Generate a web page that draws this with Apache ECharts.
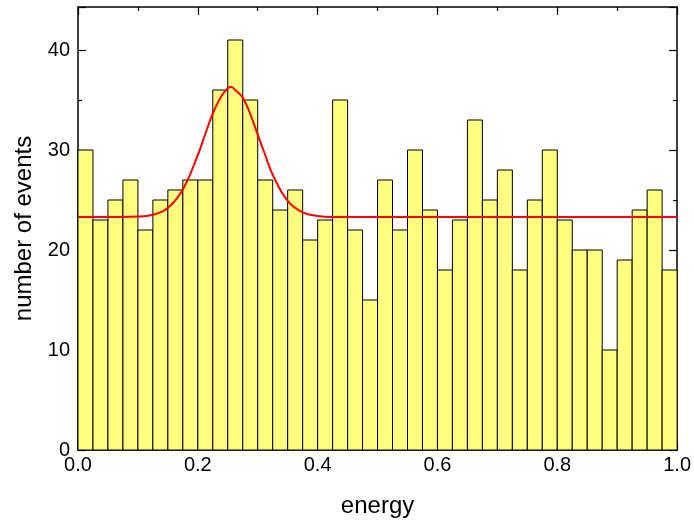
<!DOCTYPE html>
<html><head><meta charset="utf-8">
<script src="https://cdn.jsdelivr.net/npm/echarts@6/dist/echarts.min.js"></script>
<style>html,body{margin:0;padding:0;background:#fff}#c{width:694px;height:523px}</style>
</head><body><div id="c"></div>
<script>
const binStart = 0.0;
const binWidth = 0.025;
const counts = [30,23,25,27,22,25,26,27,27,36,41,35,27,24,26,21,23,35,22,15,27,22,30,24,18,23,33,25,28,18,25,30,23,20,20,10,19,24,26,18];
const fitX = [0,0.05,0.1,0.125,0.15,0.175,0.2,0.2125,0.225,0.2375,0.25,0.256,0.2625,0.275,0.2875,0.3,0.3125,0.325,0.35,0.375,0.4,0.425,0.5,0.6,0.7,0.8,0.9,1.0];
const fitY = [23.3,23.3,23.34,23.52,24.21,26.06,29.5,31.6,33.66,35.2,36.19,36.3,36.0,35.24,33.6,31.53,29.5,27.52,24.91,23.76,23.4,23.31,23.3,23.3,23.3,23.3,23.3,23.3];
const xTicks = ['0.0','0.2','0.4','0.6','0.8','1.0'];
const yTicks = ['0','10','20','30','40'];

const bars = counts.map((v,i)=>[binStart+i*binWidth, binStart+(i+1)*binWidth, v]);
const fitData = fitX.map((x,i)=>[x, fitY[i]]);

const chart = echarts.init(document.getElementById('c'));
const font = 'Liberation Sans, Arial, sans-serif';
const axisCommon = {
  axisLine:{show:true,onZero:false,lineStyle:{color:'#000',width:1.5}},
  axisTick:{show:true,inside:true,length:8,lineStyle:{color:'#000',width:1.2}},
  minorTick:{show:true,splitNumber:2,length:4,lineStyle:{color:'#000',width:1.2}},
  splitLine:{show:false}
};
chart.setOption({
  animation:false,
  grid:{left:78,right:15,top:7,bottom:72,containLabel:false},
  xAxis:[
    Object.assign({type:'value',min:0,max:1,interval:0.2,position:'bottom',
      name:'energy',nameLocation:'middle',nameGap:44,
      nameTextStyle:{fontSize:24,color:'#000',fontFamily:font},
      axisLabel:{fontSize:20,color:'#000',fontFamily:font,margin:5,formatter:v=>{const s=v.toFixed(1);return xTicks.includes(s)?s:'';}}
    },axisCommon),
    Object.assign({type:'value',min:0,max:1,interval:0.2,position:'top',axisLabel:{show:false}},axisCommon)
  ],
  yAxis:[
    Object.assign({type:'value',min:0,max:44.3,interval:10,position:'left',
      name:'number of events',nameLocation:'middle',nameGap:36,
      nameTextStyle:{fontSize:24,color:'#000',fontFamily:font},
      axisLabel:{fontSize:20,color:'#000',fontFamily:font,margin:8,showMaxLabel:false,formatter:v=>{const s=String(Math.round(v));return yTicks.includes(s)&&Math.abs(v-Math.round(v))<1e-6?s:'';}}
    },axisCommon),
    Object.assign({type:'value',min:0,max:44.3,interval:10,position:'right',axisLabel:{show:false}},axisCommon)
  ],
  series:[
    {type:'custom',xAxisIndex:0,yAxisIndex:0,data:bars,encode:{x:[0,1],y:2},
     renderItem:function(params,api){
       const p0=api.coord([api.value(0),0]);
       const p1=api.coord([api.value(1),api.value(2)]);
       return {type:'rect',shape:{x:p0[0],y:p1[1],width:p1[0]-p0[0],height:p0[1]-p1[1]},
         style:{fill:'#ffff80',stroke:'#000',lineWidth:1}};
     }},
    {type:'line',xAxisIndex:0,yAxisIndex:0,data:fitData,smooth:0.4,showSymbol:false,
     lineStyle:{color:'#ff0000',width:2},z:5}
  ]
});
</script></body></html>
